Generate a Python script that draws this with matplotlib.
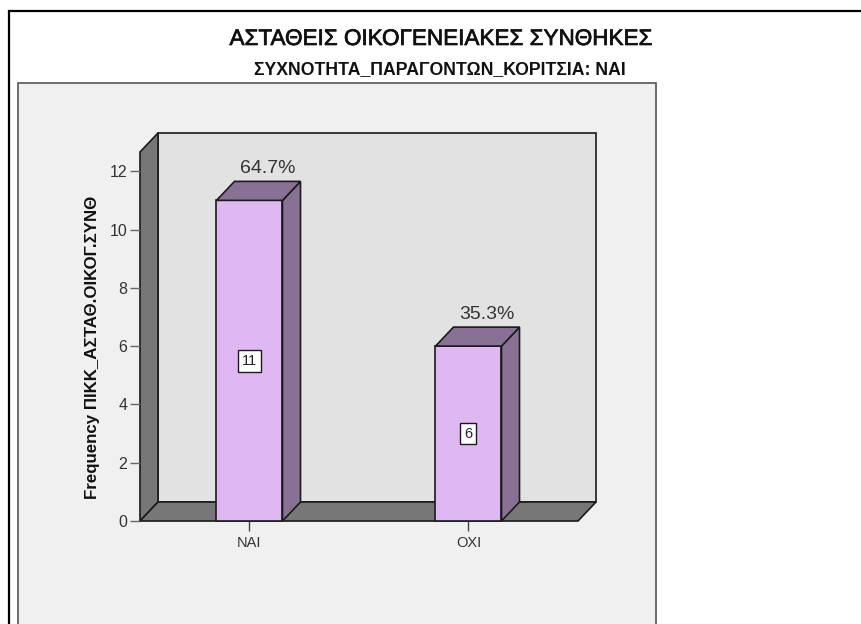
import matplotlib
matplotlib.use('Agg')
import matplotlib.pyplot as plt
import matplotlib.patheffects as pe
from matplotlib.patches import Polygon, Rectangle

W, H = 862, 624

categories = ['ΝΑΙ', 'ΟΧΙ']
counts = [11, 6]
percents = ['64.7%', '35.3%']
yticks = [0, 2, 4, 6, 8, 10, 12]
title = 'ΑΣΤΑΘΕΙΣ ΟΙΚΟΓΕΝΕΙΑΚΕΣ ΣΥΝΘΗΚΕΣ'
subtitle = 'ΣΥΧΝΟΤΗΤΑ_ΠΑΡΑΓΟΝΤΩΝ_ΚΟΡΙΤΣΙΑ: ΝΑΙ'
ylabel = 'Frequency ΠΙΚΚ_ΑΣΤΑΘ.ΟΙΚΟΓ.ΣΥΝΘ'

plt.rcParams['font.family'] = ['Liberation Sans', 'DejaVu Sans']

fig = plt.figure(figsize=(W / 100, H / 100), dpi=100, facecolor='white')


def pxrect(x0, y0, x1, y1, **kw):
    # rectangle in image pixels, y from the top
    fig.add_artist(Rectangle((x0 / W, 1 - y1 / H), (x1 - x0) / W, (y1 - y0) / H,
                             transform=fig.transFigure, zorder=-1, **kw))


# outer frame runs off the right and bottom of the image
pxrect(9.5, 11, W + 10, H + 10, fc='white', ec='black', lw=1.6)
pxrect(18.5, 83, 656, H + 10, fc='#f0f0f0', ec='#555555', lw=1.2)

ax = fig.add_axes([140 / W, 1 - 521 / H, 438 / W, 369 / H])
ax.patch.set_visible(False)
ytop = 12.66
ax.set_xlim(-0.5, 1.5)
ax.set_ylim(0, ytop)
for s in ax.spines.values():
    s.set_visible(False)

dx, dy = 18 / 219, 19 / 29.15  # depth of the 3d box
x0, x1 = -0.5, 1.5
edge = '#1a1a1a'
lw = 1.2

# back wall, side wall, floor
ax.add_patch(Polygon([(x0 + dx, dy), (x1 + dx, dy), (x1 + dx, ytop + dy), (x0 + dx, ytop + dy)],
                     fc='#e2e2e2', ec=edge, lw=lw, clip_on=False))
ax.add_patch(Polygon([(x0, 0), (x0 + dx, dy), (x0 + dx, ytop + dy), (x0, ytop)],
                     fc='#777777', ec=edge, lw=lw, clip_on=False))
ax.add_patch(Polygon([(x0, 0), (x1, 0), (x1 + dx, dy), (x0 + dx, dy)],
                     fc='#777777', ec=edge, lw=lw, clip_on=False))

barw = 66 / 219
for i, (c, p) in enumerate(zip(counts, percents)):
    l, r = i - barw / 2, i + barw / 2
    ax.bar(i, c, width=barw, color='#dfb8f2', edgecolor=edge, linewidth=lw, zorder=3, clip_on=False)
    ax.add_patch(Polygon([(r, 0), (r + dx, dy), (r + dx, c + dy), (r, c)],
                         fc='#897196', ec=edge, lw=lw, zorder=3, clip_on=False))
    ax.add_patch(Polygon([(l, c), (r, c), (r + dx, c + dy), (l + dx, c + dy)],
                         fc='#897196', ec=edge, lw=lw, zorder=3, clip_on=False))
    ax.text(i + dx, c + dy + 0.14, p, ha='center', va='bottom', fontsize=14,
            color='#333333', zorder=4)
    ax.text(i, c / 2, str(c), ha='center', va='center', fontsize=10.5, color='#222222', zorder=4,
            bbox=dict(boxstyle='square,pad=0.27', fc='white', ec=edge, lw=1))

ax.set_xticks(range(len(categories)))
ax.set_xticklabels(categories, fontsize=10.5, color='#333333')
ax.set_yticks(yticks)
ax.set_yticklabels([str(t) for t in yticks], fontsize=11.5, color='#333333')
ax.tick_params(axis='x', length=7, width=1, color='#444444', pad=4)
ax.tick_params(axis='y', length=7, width=1, color='#666666', pad=2)

fig.text(441 / W, 1 - 39.5 / H, title, ha='center', va='center', fontsize=16.2, color='#111111',
         path_effects=[pe.withStroke(linewidth=0.5, foreground='#111111')])
fig.text(440 / W, 1 - 70 / H, subtitle, ha='center', va='center', fontsize=12.7,
         fontweight='bold', color='#111111')
fig.text(93 / W, 1 - 347 / H, ylabel, rotation=90, ha='center', va='center', fontsize=12.2,
         fontweight='bold', color='#111111')

fig.savefig('out.png', dpi=100)
